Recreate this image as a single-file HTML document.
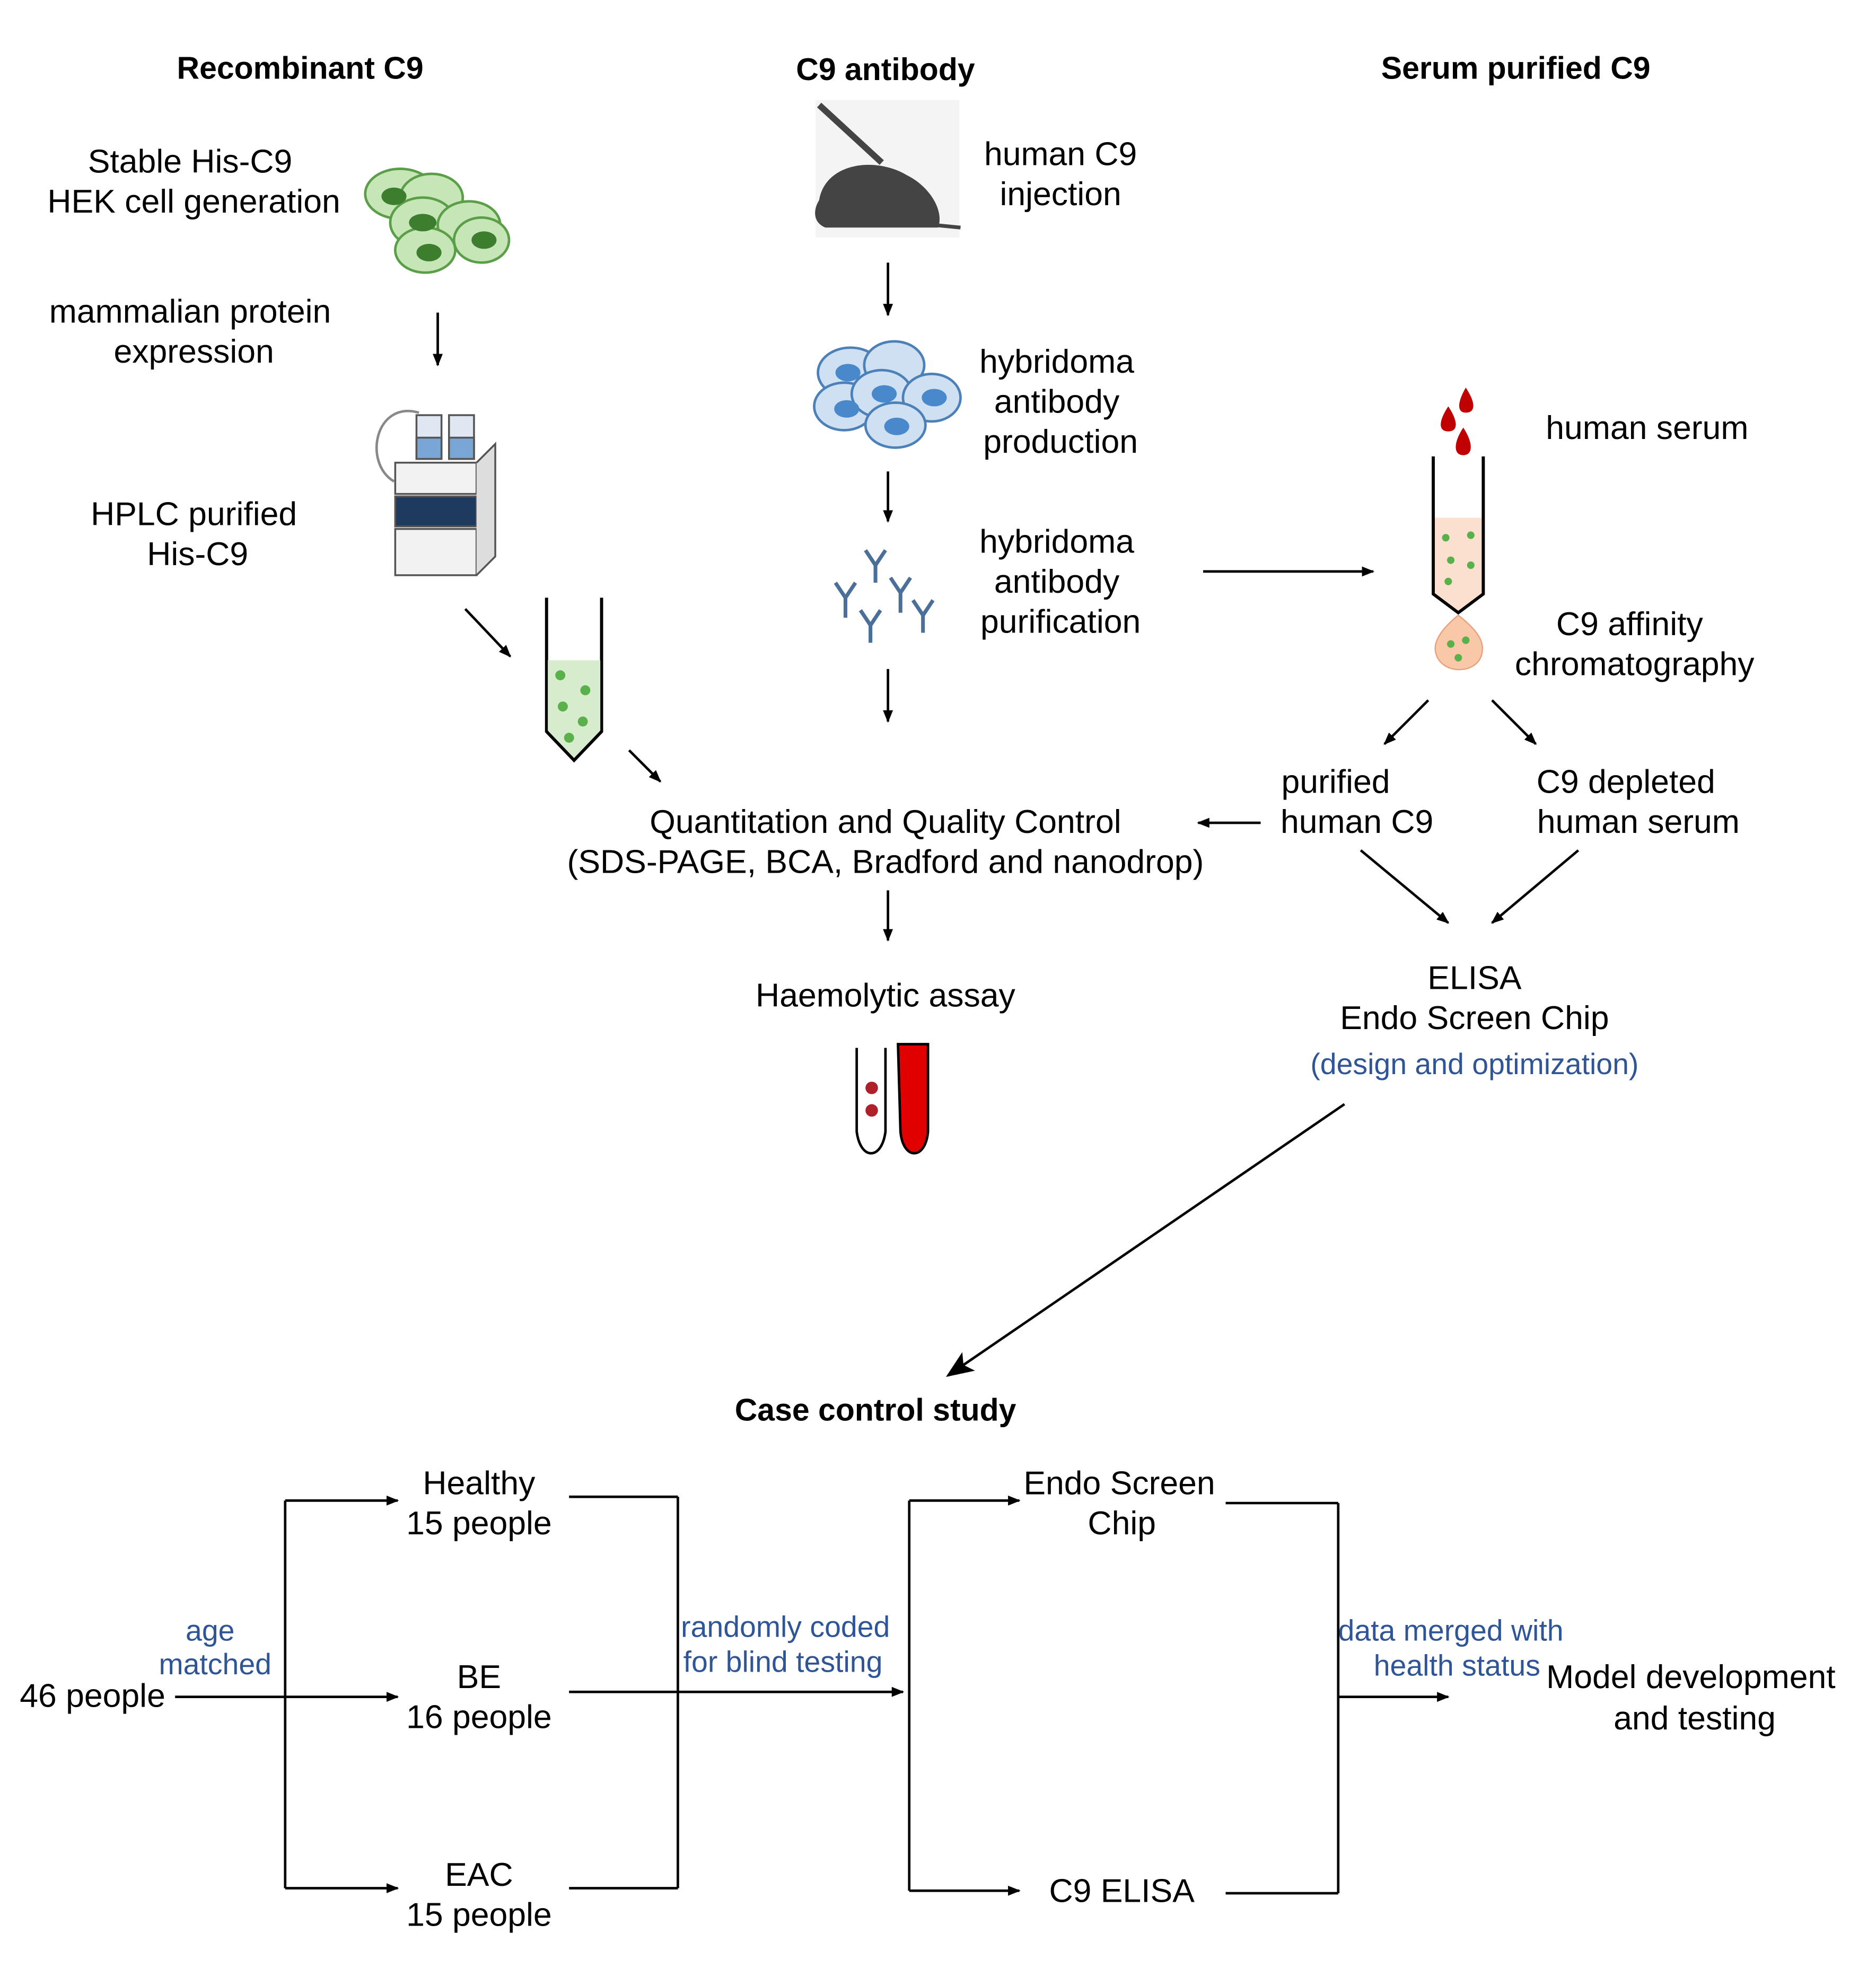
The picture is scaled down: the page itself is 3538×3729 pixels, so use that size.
<!DOCTYPE html>
<html><head><meta charset="utf-8"><style>html,body{margin:0;padding:0;background:#fff}svg{display:block}</style></head>
<body>
<svg xmlns="http://www.w3.org/2000/svg" width="3538" height="3729" viewBox="0 0 1500 1581">
<defs>
<marker id="a" markerWidth="10" markerHeight="10" refX="9" refY="5" orient="auto" markerUnits="userSpaceOnUse"><path d="M0,1 L10,5 L0,9 Z" fill="#000"/></marker>
<marker id="b" markerWidth="22" markerHeight="22" refX="20" refY="11" orient="auto" markerUnits="userSpaceOnUse"><path d="M0,2 L22,11 L0,20 L5,11 Z" fill="#000"/></marker>
</defs>
<rect width="1500" height="1581" fill="#fff"/>
<g font-family="Liberation Sans, sans-serif" font-size="26.5" text-anchor="middle" fill="#000">
<g font-weight="bold" font-size="25">
<text x="240" y="63">Recombinant C9</text>
<text x="708" y="64">C9 antibody</text>
<text x="1212" y="63">Serum purified C9</text>
<text x="700" y="1136">Case control study</text>
</g>
<text x="152" y="138">Stable His-C9</text>
<text x="155" y="170">HEK cell generation</text>
<text x="152" y="258">mammalian protein</text>
<text x="155" y="290">expression</text>
<text x="155" y="420">HPLC purified</text>
<text x="158" y="452">His-C9</text>
<text x="848" y="132">human C9</text>
<text x="848" y="164">injection</text>
<text x="845" y="298">hybridoma</text>
<text x="845" y="330">antibody</text>
<text x="848" y="362">production</text>
<text x="845" y="442">hybridoma</text>
<text x="845" y="474">antibody</text>
<text x="848" y="506">purification</text>
<text x="1317" y="351">human serum</text>
<text x="1303" y="508">C9 affinity</text>
<text x="1307" y="540">chromatography</text>
<text x="1068" y="634">purified</text>
<text x="1085" y="666">human C9</text>
<text x="1300" y="634">C9 depleted</text>
<text x="1310" y="666">human serum</text>
<text x="708" y="666">Quantitation and Quality Control</text>
<text x="708" y="698">(SDS-PAGE, BCA, Bradford and nanodrop)</text>
<text x="708" y="805">Haemolytic assay</text>
<text x="1179" y="791">ELISA</text>
<text x="1179" y="823">Endo Screen Chip</text>
<text x="1179" y="859" font-size="23.5" fill="#2f5597">(design and optimization)</text>
<text x="74" y="1365">46 people</text>
<text x="383" y="1195">Healthy</text>
<text x="383" y="1227">15 people</text>
<text x="383" y="1350">BE</text>
<text x="383" y="1382">16 people</text>
<text x="383" y="1508">EAC</text>
<text x="383" y="1540">15 people</text>
<text x="895" y="1195">Endo Screen</text>
<text x="897" y="1227">Chip</text>
<text x="897" y="1521">C9 ELISA</text>
<text x="1352" y="1350">Model development</text>
<text x="1355" y="1383">and testing</text>
<g font-size="23.5" fill="#2f5597">
<text x="168" y="1312">age</text>
<text x="172" y="1339">matched</text>
<text x="628" y="1309">randomly coded</text>
<text x="626" y="1337">for blind testing</text>
<text x="1160" y="1312">data merged with</text>
<text x="1165" y="1340">health status</text>
</g>
</g>
<g stroke="#000" stroke-width="2" fill="none">
<line x1="350" y1="250" x2="350" y2="292" marker-end="url(#a)"/>
<line x1="372" y1="487" x2="408" y2="525" marker-end="url(#a)"/>
<line x1="503" y1="600" x2="528" y2="625" marker-end="url(#a)"/>
<line x1="710" y1="210" x2="710" y2="252" marker-end="url(#a)"/>
<line x1="710" y1="377" x2="710" y2="417" marker-end="url(#a)"/>
<line x1="710" y1="535" x2="710" y2="577" marker-end="url(#a)"/>
<line x1="962" y1="457" x2="1098" y2="457" marker-end="url(#a)"/>
<line x1="1142" y1="560" x2="1107" y2="595" marker-end="url(#a)"/>
<line x1="1193" y1="560" x2="1228" y2="595" marker-end="url(#a)"/>
<line x1="1008" y1="658" x2="958" y2="658" marker-end="url(#a)"/>
<line x1="1088" y1="680" x2="1158" y2="738" marker-end="url(#a)"/>
<line x1="1262" y1="680" x2="1193" y2="738" marker-end="url(#a)"/>
<line x1="710" y1="712" x2="710" y2="752" marker-end="url(#a)"/>
<line x1="1075" y1="883" x2="758" y2="1100" marker-end="url(#b)"/>
<line x1="140" y1="1357" x2="318" y2="1357" marker-end="url(#a)"/>
<line x1="228" y1="1200" x2="228" y2="1510"/>
<line x1="228" y1="1200" x2="318" y2="1200" marker-end="url(#a)"/>
<line x1="228" y1="1510" x2="318" y2="1510" marker-end="url(#a)"/>
<line x1="455" y1="1197" x2="542" y2="1197"/>
<line x1="455" y1="1510" x2="542" y2="1510"/>
<line x1="542" y1="1197" x2="542" y2="1510"/>
<line x1="455" y1="1353" x2="722" y2="1353" marker-end="url(#a)"/>
<line x1="727" y1="1200" x2="727" y2="1512"/>
<line x1="727" y1="1200" x2="815" y2="1200" marker-end="url(#a)"/>
<line x1="727" y1="1512" x2="815" y2="1512" marker-end="url(#a)"/>
<line x1="980" y1="1202" x2="1070" y2="1202"/>
<line x1="980" y1="1514" x2="1070" y2="1514"/>
<line x1="1070" y1="1202" x2="1070" y2="1514"/>
<line x1="1070" y1="1357" x2="1158" y2="1357" marker-end="url(#a)"/>
</g>
<g stroke="#5a9e48" stroke-width="2" fill="#c7e6b8">
<ellipse cx="320" cy="155" rx="28" ry="20"/><ellipse cx="345" cy="158" rx="25" ry="19"/>
<ellipse cx="338" cy="178" rx="26" ry="20"/><ellipse cx="375" cy="180" rx="25" ry="19"/>
<ellipse cx="385" cy="192" rx="22" ry="18"/><ellipse cx="340" cy="200" rx="24" ry="18"/>
</g>
<g fill="#3c7d2e"><ellipse cx="315" cy="157" rx="10" ry="7"/><ellipse cx="338" cy="178" rx="11" ry="7"/><ellipse cx="387" cy="192" rx="10" ry="7"/><ellipse cx="343" cy="202" rx="10" ry="7"/></g>
<path d="M335,330 C300,320 290,370 315,385" stroke="#888" stroke-width="2" fill="none"/>
<g stroke="#555" stroke-width="1.5">
<rect x="333" y="332" width="20" height="35" fill="#dfe8f2"/><rect x="359" y="332" width="20" height="35" fill="#dfe8f2"/>
<rect x="333" y="350" width="20" height="17" fill="#7aa6d6"/><rect x="359" y="350" width="20" height="17" fill="#7aa6d6"/>
<rect x="316" y="370" width="65" height="25" fill="#f2f2f2"/>
<rect x="316" y="397" width="65" height="24" fill="#1f3a5f"/>
<rect x="316" y="423" width="65" height="37" fill="#f2f2f2"/>
<path d="M381,370 L396,355 L396,445 L381,460" fill="#ddd"/>
</g>
<path d="M437,478 L437,585 L459,608 L481,585 L481,478" stroke="#000" stroke-width="2.5" fill="none"/>
<path d="M438,528 L480,528 L480,584 L459,606 L438,584 Z" fill="#d7eccc"/>
<g fill="#5ab04a"><circle cx="448" cy="540" r="4"/><circle cx="468" cy="552" r="4"/><circle cx="450" cy="565" r="4"/><circle cx="466" cy="577" r="4"/><circle cx="455" cy="590" r="4"/></g>
<rect x="652" y="80" width="115" height="110" fill="#f4f4f4"/>
<path d="M655,160 C660,130 700,125 725,140 C745,150 755,170 750,182 L660,182 C650,178 650,168 655,160 Z" fill="#444"/>
<path d="M748,180 L768,182" stroke="#444" stroke-width="3"/>
<line x1="655" y1="84" x2="705" y2="130" stroke="#444" stroke-width="5"/>
<g stroke="#4b80b8" stroke-width="2" fill="#cfe0f3">
<ellipse cx="680" cy="298" rx="26" ry="20"/><ellipse cx="715" cy="292" rx="24" ry="19"/>
<ellipse cx="675" cy="325" rx="24" ry="19"/><ellipse cx="705" cy="315" rx="24" ry="19"/>
<ellipse cx="745" cy="318" rx="23" ry="19"/><ellipse cx="716" cy="340" rx="24" ry="18"/>
</g>
<g fill="#4a88cc"><ellipse cx="678" cy="298" rx="10" ry="7"/><ellipse cx="677" cy="327" rx="10" ry="7"/><ellipse cx="707" cy="315" rx="10" ry="7"/><ellipse cx="747" cy="318" rx="10" ry="7"/><ellipse cx="717" cy="341" rx="10" ry="7"/></g>
<g stroke="#4a6f99" stroke-width="3" fill="none">
<path d="M692,440 L700,452 L708,440 M700,452 L700,466"/>
<path d="M668,466 L676,478 L684,466 M676,478 L676,494"/>
<path d="M712,462 L720,474 L728,462 M720,474 L720,490"/>
<path d="M688,488 L696,500 L704,488 M696,500 L696,514"/>
<path d="M730,480 L738,492 L746,480 M738,492 L738,506"/>
</g>
<g fill="#c00000"><path d="M1172,310 C1165,322 1165,330 1172,330 C1180,330 1180,322 1172,310Z"/><path d="M1158,325 C1150,337 1150,345 1158,345 C1166,345 1166,337 1158,325Z"/><path d="M1170,342 C1162,354 1162,364 1170,364 C1178,364 1178,354 1170,342Z"/></g>
<path d="M1146,414 L1186,414 L1186,475 L1166,490 L1146,475 Z" fill="#fbe0d0"/>
<path d="M1146,365 L1146,475 L1166,490 L1186,475 L1186,365" stroke="#000" stroke-width="2.5" fill="none"/>
<g fill="#5ab04a"><circle cx="1156" cy="430" r="3"/><circle cx="1176" cy="428" r="3"/><circle cx="1160" cy="448" r="3"/><circle cx="1176" cy="452" r="3"/><circle cx="1158" cy="465" r="3"/></g>
<path d="M1166,492 C1150,505 1146,515 1148,522 C1152,540 1182,540 1185,522 C1187,512 1180,503 1166,492Z" fill="#f9c8a8" stroke="#e8a07a"/>
<g fill="#5ab04a"><circle cx="1160" cy="515" r="3"/><circle cx="1172" cy="512" r="3"/><circle cx="1166" cy="526" r="3"/></g>
<path d="M685,838 L685,905 C688,928 705,928 708,905 L708,838" stroke="#000" stroke-width="2" fill="none"/>
<circle cx="697" cy="870" r="5" fill="#b0202a"/><circle cx="697" cy="888" r="5" fill="#b0202a"/>
<path d="M718,835 L742,835 L742,905 C740,928 722,928 720,905 Z" fill="#e00000" stroke="#000" stroke-width="2"/>
</svg>
</body></html>
